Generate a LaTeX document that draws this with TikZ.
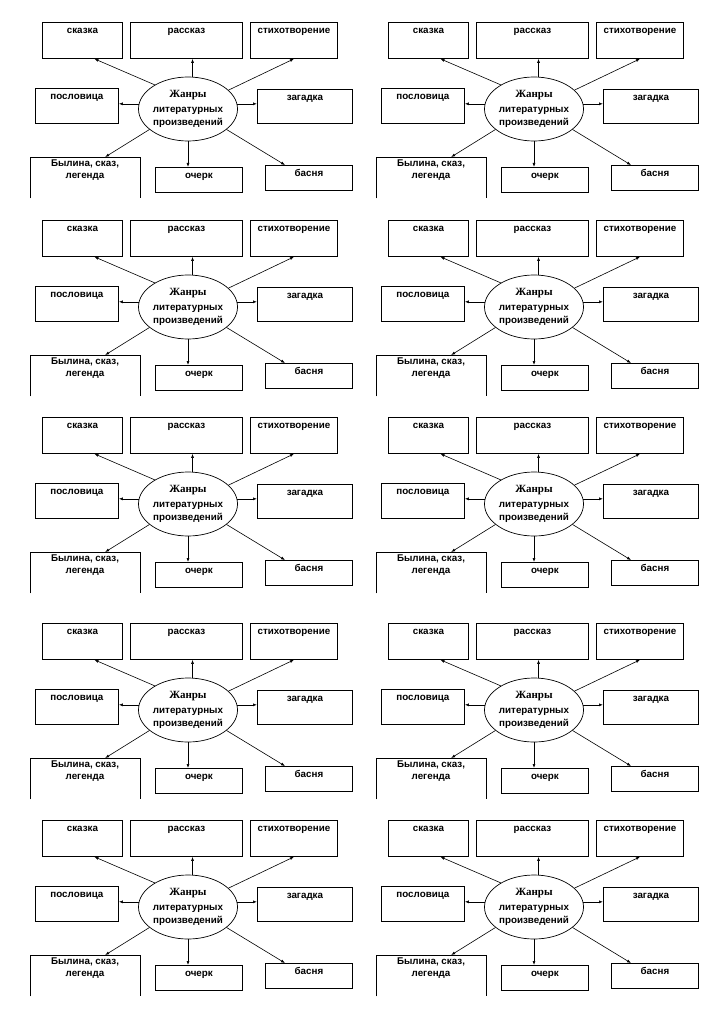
\documentclass[tikz,border=0pt]{standalone}
\usepackage{fontspec}
\setmainfont{Liberation Serif}
\setsansfont{Liberation Sans}
\newfontfamily\titlefont{Liberation Serif}
\usetikzlibrary{arrows.meta,shapes.geometric,calc}
\tikzset{
  lbl/.style={font=\sffamily\bfseries\fontsize{9.8}{11.5}\selectfont},
  box/.style 2 args={lbl, draw, line width=0.85pt, inner sep=0pt, anchor=north west,
    minimum width=#1, text height=11pt, text depth=#2},
  genre/.style={lbl, ellipse, draw, line width=0.7pt, inner sep=0pt,
    minimum width=95pt, minimum height=64pt, align=center},
  link/.style={->, line width=0.6pt},
  >={Latex[length=4pt,width=3pt]},
  scheme/.pic={
    \node[box={80pt}{25pt}] (skazka) at (42,0) {сказка}; % top row
    \node[box={112pt}{25pt}] (rasskaz) at (130,0) {рассказ};
    \node[box={87pt}{25pt}] (stih) at (250,0) {стихотворение};
    \node[box={83pt}{24pt}] (poslov) at (35,66) {пословица}; % middle row
    \node[box={95pt}{23pt}] (zagadka) at (257,67) {загадка};
    \node[box={87pt}{14pt}] (ocherk) at (155,145) {очерк}; % bottom row
    \node[box={87pt}{14pt}] (basnya) at (265,143) {басня};
    \node[lbl, minimum width=110pt, minimum height=41pt, anchor=north west] (bylina) at (30,135) {};
    \node[lbl, align=center] (bylinatxt) at (85,148) {Былина, сказ,\\ легенда};
    \draw[line width=0.85pt] (bylina.south west) -- (bylina.north west) -- (bylina.north east) -- (bylina.south east); % open box
    \node[genre] (g) at (188,87) {{\titlefont\bfseries\fontsize{11}{12}\selectfont Жанры}\\[4pt] литературных\\[1.5pt] произведений};
    \draw[link] (g.144) -- ([xshift=12pt]skazka.south); % arrows
    \draw[link] (g.82) -- (g.82 |- rasskaz.south);
    \draw[link] (g.25) -- (stih.south);
    \draw[link] (g.174) -- (g.174 -| poslov.east);
    \draw[link] (g.6) -- (g.6 -| zagadka.west);
    \draw[link] (g.208) -- ([xshift=20pt]bylina.north);
    \draw[link] (g.south) -- (g.south |- ocherk.north);
    \draw[link] (g.332) -- ([xshift=20pt]basnya.north west);
  }
}
\begin{document}
\begin{tikzpicture}[x=1pt,y=-1pt]
  \useasboundingbox (0,0) rectangle (724,1024);
  \foreach \y in {22,220,417,623,820}
    \foreach \x in {0,346}
      \pic at (\x,\y) {scheme};
\end{tikzpicture}
\end{document}
